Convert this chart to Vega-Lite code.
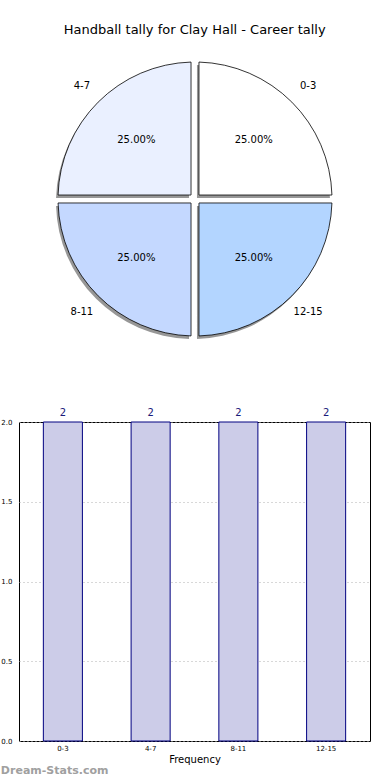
{
  "$schema": "https://vega.github.io/schema/vega-lite/v6.json",
  "background": "white",
  "padding": {"left": 0, "top": 24, "right": 0, "bottom": 0},
  "title": {
    "text": "Handball tally for Clay Hall - Career tally",
    "font": "DejaVu Sans",
    "fontSize": 13,
    "fontWeight": "normal",
    "color": "#000000",
    "anchor": "middle",
    "dx": 9,
    "offset": 14
  },
  "spacing": 60,
  "config": {
    "font": "DejaVu Sans",
    "text": {"font": "DejaVu Sans"}
  },
  "datasets": {
    "tally": [
      {"range": "0-3", "count": 2, "share": 0.25, "pieOrder": 1},
      {"range": "4-7", "count": 2, "share": 0.25, "pieOrder": 4},
      {"range": "8-11", "count": 2, "share": 0.25, "pieOrder": 3},
      {"range": "12-15", "count": 2, "share": 0.25, "pieOrder": 2}
    ]
  },
  "vconcat": [
    {
      "width": 352,
      "height": 296,
      "view": {"stroke": null},
      "data": {"name": "tally"},
      "encoding": {
        "theta": {"field": "count", "type": "quantitative", "stack": true},
        "order": {"field": "pieOrder", "type": "quantitative"}
      },
      "layer": [
        {
          "mark": {
            "type": "arc",
            "outerRadius": 137,
            "innerRadius": 5.7,
            "padAngle": 0.058,
            "fill": "#8c8c8c",
            "opacity": 0.9,
            "x": 174,
            "y": 151
          }
        },
        {
          "mark": {
            "type": "arc",
            "outerRadius": 137,
            "innerRadius": 5.7,
            "padAngle": 0.058,
            "stroke": "#000000",
            "strokeWidth": 0.8
          },
          "encoding": {
            "color": {
              "field": "range",
              "type": "nominal",
              "scale": {
                "domain": ["0-3", "4-7", "8-11", "12-15"],
                "range": ["#ffffff", "#eaf0ff", "#c4d8ff", "#b3d5ff"]
              },
              "legend": null
            }
          }
        },
        {
          "mark": {"type": "text", "radius": 83, "fontSize": 10, "color": "#000000"},
          "encoding": {
            "text": {"field": "share", "type": "quantitative", "format": ".2%"}
          }
        },
        {
          "mark": {"type": "text", "radius": 160, "fontSize": 10, "color": "#000000"},
          "encoding": {
            "text": {"field": "range", "type": "nominal"}
          }
        }
      ]
    },
    {
      "width": 351,
      "height": 319,
      "view": {"stroke": "#000000", "strokeWidth": 1},
      "data": {"name": "tally"},
      "title": {
        "text": "Dream-Stats.com",
        "orient": "bottom",
        "anchor": "start",
        "font": "DejaVu Sans",
        "fontSize": 11,
        "fontWeight": "bold",
        "color": "#a0a0a0",
        "offset": 1
      },
      "encoding": {
        "x": {
          "field": "range",
          "type": "nominal",
          "sort": ["0-3", "4-7", "8-11", "12-15"],
          "scale": {"paddingInner": 0, "paddingOuter": 0},
          "axis": {
            "title": "Frequency",
            "titleFontSize": 10,
            "titleFontWeight": "normal",
            "titleColor": "#000000",
            "titlePadding": 3,
            "labelAngle": 0,
            "labelFontSize": 7,
            "labelColor": "#000000",
            "labelPadding": 3,
            "ticks": false,
            "domain": false,
            "grid": true,
            "bandPosition": 0.5,
            "gridColor": "#b0b0b0",
            "gridDash": [1, 3],
            "gridWidth": 1
          }
        }
      },
      "layer": [
        {
          "mark": {
            "type": "bar",
            "width": {"band": 0.445},
            "fill": "#cccce8",
            "stroke": "#000080",
            "strokeWidth": 1
          },
          "encoding": {
            "y": {
              "field": "count",
              "type": "quantitative",
              "scale": {"domain": [0, 2], "nice": false},
              "axis": {
                "title": null,
                "values": [0, 0.5, 1, 1.5, 2],
                "format": ".1f",
                "labelFontSize": 7,
                "labelColor": "#000000",
                "labelPadding": 7,
                "ticks": false,
                "domain": false,
                "grid": true,
                "gridColor": "#b0b0b0",
                "gridDash": [1, 3],
                "gridWidth": 1
              }
            }
          }
        },
        {
          "mark": {
            "type": "text",
            "baseline": "bottom",
            "dy": -4,
            "fontSize": 10,
            "color": "#1a1a7a"
          },
          "encoding": {
            "y": {"field": "count", "type": "quantitative"},
            "text": {"field": "count", "type": "quantitative"}
          }
        }
      ]
    }
  ]
}
